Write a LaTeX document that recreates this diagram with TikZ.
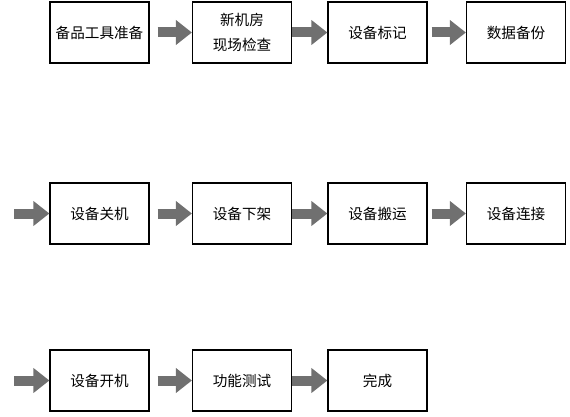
\documentclass[tikz,border=0pt]{standalone}
\usepackage{fontspec}
\setmainfont{Noto Sans CJK SC}
\usetikzlibrary{arrows.meta,calc}
\definecolor{arrowgray}{RGB}{112,112,112}
\begin{document}
\begin{tikzpicture}[x=1pt,y=1pt,
  stepbox/.style={draw=black,line width=1.2pt,minimum width=99pt,minimum height=61pt,inner sep=0pt,align=center,font=\fontsize{14.6}{25}\selectfont},
  blockarrow/.style={draw=arrowgray,line width=10pt,line cap=butt,-{Triangle[length=16pt,width=24pt]}}]
\useasboundingbox (0,0) rectangle (570,416);
% row 1
\node[stepbox] (a1) at (99.5,383.5) {备品工具准备};
\node[stepbox] (a2) at (242,383.5) {新机房\\现场检查};
\node[stepbox] (a3) at (377.5,383.5) {设备标记};
\node[stepbox] (a4) at (516,383.5) {数据备份};
% row 2
\node[stepbox] (b1) at (99.5,202.5) {设备关机};
\node[stepbox] (b2) at (242,202.5) {设备下架};
\node[stepbox] (b3) at (377.5,202.5) {设备搬运};
\node[stepbox] (b4) at (516,202.5) {设备连接};
% row 3
\node[stepbox] (c1) at (99.5,35.5) {设备开机};
\node[stepbox] (c2) at (242,35.5) {功能测试};
\node[stepbox] (c3) at (377.5,35.5) {完成};
% arrows
\coordinate (sb) at ($(b1.west)+(-35,0)$);
\coordinate (sc) at ($(c1.west)+(-35,0)$);
\draw[blockarrow,shorten <=8pt] (a1.east) -- (a2.west);
\draw[blockarrow] (a2.east) -- (a3.west);
\draw[blockarrow,shorten <=4pt] (a3.east) -- (a4.west);
\draw[blockarrow] (sb) -- (b1.west);
\draw[blockarrow,shorten <=8pt] (b1.east) -- (b2.west);
\draw[blockarrow] (b2.east) -- (b3.west);
\draw[blockarrow,shorten <=4pt] (b3.east) -- (b4.west);
\draw[blockarrow] (sc) -- (c1.west);
\draw[blockarrow,shorten <=8pt] (c1.east) -- (c2.west);
\draw[blockarrow] (c2.east) -- (c3.west);
\end{tikzpicture}
\end{document}
